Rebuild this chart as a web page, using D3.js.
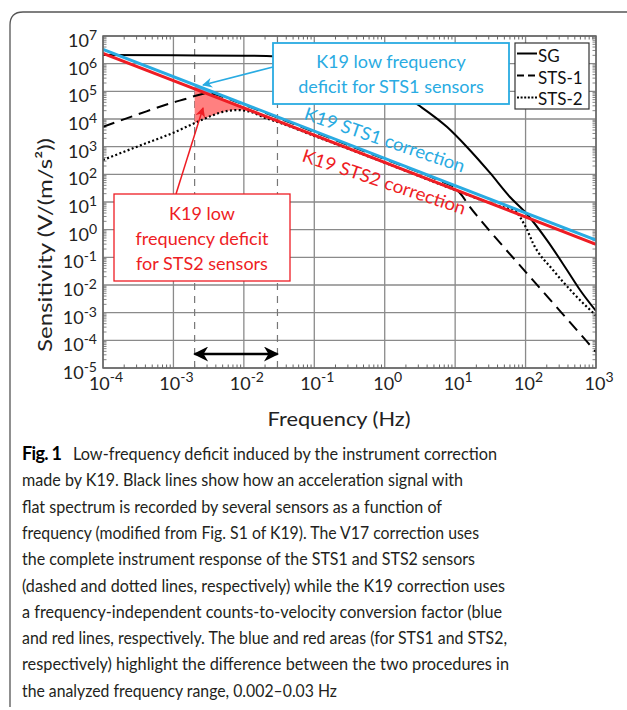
<!DOCTYPE html>
<html>
<head>
<meta charset="utf-8">
<script src="https://cdn.jsdelivr.net/npm/d3@7"></script>
<style>
  body { margin: 0; background: #fff; }
  svg { display: block; font-family: Lato, "Open Sans", sans-serif; }
</style>
</head>
<body>
<div id="chart"></div>
<script>
// Values (Hz, V/(m/s^2))
var sgFreq = [1e-4, 1e-3, 1e-2, 3e-2, 0.1, 0.32, 1, 3.0, 7.7, 14.7, 31.3, 60, 101, 201, 387, 593, 1000];
var sgSens = [2.06e6, 2.0e6, 1.95e6, 1.8e6, 1.32e6, 7.0e5, 1.95e5, 3.2e4, 5.1e3, 973, 112, 15.2, 4.0, 0.42, 0.035, 6.6e-3, 1.15e-3];

var sts1Freq = [1e-4, 3.2e-4, 1e-3, 1.6e-3, 2e-3, 2.5e-3, 3.2e-3, 4e-3, 6.3e-3, 1e-2, 0.1, 1, 3.2, 6.3, 10, 12.6, 15.8, 22.4, 31.6, 100, 316, 1000];
var sts1Sens = [5.2e3, 1.5e4, 4.0e4, 5.6e4, 6.8e4, 7.9e4, 8.5e4, 7.6e4, 5.1e4, 3.3e4, 3.4e3, 355, 115, 56, 32, 16.6, 7.2, 2.4, 0.85, 0.03, 1.07e-3, 3.8e-5];

var sts2Freq = [1e-4, 3.2e-4, 1e-3, 2e-3, 3.2e-3, 5e-3, 8e-3, 1.26e-2, 2e-2, 3.2e-2, 0.1, 1, 10, 31.6, 50, 70, 83, 105, 127, 245, 471, 1000];
var sts2Sens = [330, 1.05e3, 3.2e3, 7.1e3, 1.2e4, 1.8e4, 2.1e4, 1.8e4, 1.1e4, 7.4e3, 2.45e3, 263, 27, 9.1, 6.3, 5.2, 2.9, 1.0, 0.33, 0.035, 5.2e-3, 7.9e-4];

// K19 frequency-independent corrections (straight lines)
var k19Freq = [1e-4, 1e3];
var k19Sts1Sens = [3.3e6, 0.42];
var k19Sts2Sens = [2.37e6, 0.296];

// analyzed band
var bandFreq = [0.002, 0.03];
var bandArrowSens = 3.2e-5;

// annotation arrow tips
var sts1TipFreq = 2.63e-3, sts1TipSens = 1.7e5;
var sts2TipFreq = 2.63e-3, sts2TipSens = 2.5e4;

var xTickExp = [-4, -3, -2, -1, 0, 1, 2, 3];
var yTickExp = [-5, -4, -3, -2, -1, 0, 1, 2, 3, 4, 5, 6, 7];

var legendNames = ["SG", "STS-1", "STS-2"];

var captionLead = "Fig. 1";
var captionLines = [
  "Low-frequency deficit induced by the instrument correction",
  "made by K19. Black lines show how an acceleration signal with",
  "flat spectrum is recorded by several sensors as a function of",
  "frequency (modified from Fig. S1 of K19). The V17 correction uses",
  "the complete instrument response of the STS1 and STS2 sensors",
  "(dashed and dotted lines, respectively) while the K19 correction uses",
  "a frequency-independent counts-to-velocity conversion factor (blue",
  "and red lines, respectively. The blue and red areas (for STS1 and STS2,",
  "respectively) highlight the difference between the two procedures in",
  "the analyzed frequency range, 0.002\u20130.03 Hz"
];
// right ends of the caption lines (layout)
var captionEnds = [497, 463, 442, 479, 475, 505, 502, 507, 509, 337];

var W = 627, H = 710;
var pLeft = 103, pRight = 596, pTop = 36, pBottom = 368;
var blue = "#29abe2", red = "#ee1d24";

var svg = d3.select("#chart").append("svg")
    .attr("width", W)
    .attr("height", H);

var x = d3.scaleLog().domain([1e-4, 1e3]).range([pLeft, pRight]);
var y = d3.scaleLog().domain([1e-5, 1e7]).range([pBottom, pTop]);

var defs = svg.append("defs");
defs.append("clipPath").attr("id", "band")
  .append("rect")
    .attr("x", x(bandFreq[0]))
    .attr("y", pTop)
    .attr("width", x(bandFreq[1]) - x(bandFreq[0]))
    .attr("height", pBottom - pTop);
defs.append("clipPath").attr("id", "plot")
  .append("rect")
    .attr("x", pLeft).attr("y", pTop)
    .attr("width", pRight - pLeft).attr("height", pBottom - pTop);

function marker(id, color, len, wid, orient) {
    defs.append("marker")
        .attr("id", id)
        .attr("viewBox", "0 0 10 10")
        .attr("refX", 9).attr("refY", 5)
        .attr("markerWidth", len).attr("markerHeight", wid)
        .attr("markerUnits", "userSpaceOnUse")
        .attr("orient", orient)
      .append("path")
        .attr("d", "M0,0 L10,5 L0,10 L3,5 Z")
        .attr("fill", color);
}
marker("hBlue", blue, 13, 10, "auto");
marker("hRed", red, 13, 10, "auto");
marker("hBlack", "#000", 19, 15, "auto-start-reverse");

// outer figure frame (open, rounded top-left corner)
svg.append("path")
    .attr("d", "M10,707 L10,25 Q10,12 23,12 L627,12")
    .style("fill", "none")
    .style("stroke", "#555")
    .style("stroke-width", 1.3);

// ---- grid ----
var grid = svg.append("g");
xTickExp.forEach(function(e) {
    grid.append("line")
        .attr("x1", x(Math.pow(10, e))).attr("x2", x(Math.pow(10, e)))
        .attr("y1", pTop).attr("y2", pBottom)
        .style("stroke", "#8a8a8a").style("stroke-width", 1.3);
});
yTickExp.forEach(function(e) {
    grid.append("line")
        .attr("x1", pLeft).attr("x2", pRight)
        .attr("y1", y(Math.pow(10, e))).attr("y2", y(Math.pow(10, e)))
        .style("stroke", "#8a8a8a").style("stroke-width", 1.3);
});
// minor ticks, inward on all four sides
for (var e = -4; e < 3; e++) {
    for (var m = 2; m <= 9; m++) {
        var xv = x(m * Math.pow(10, e));
        grid.append("line").attr("x1", xv).attr("x2", xv).attr("y1", pBottom).attr("y2", pBottom - 3.5)
            .style("stroke", "#666").style("stroke-width", 1);
        grid.append("line").attr("x1", xv).attr("x2", xv).attr("y1", pTop).attr("y2", pTop + 3.5)
            .style("stroke", "#666").style("stroke-width", 1);
    }
}
for (var e = -5; e < 7; e++) {
    for (var m = 2; m <= 9; m++) {
        var yv = y(m * Math.pow(10, e));
        grid.append("line").attr("x1", pLeft).attr("x2", pLeft + 3.5).attr("y1", yv).attr("y2", yv)
            .style("stroke", "#666").style("stroke-width", 0.8);
        grid.append("line").attr("x1", pRight).attr("x2", pRight - 3.5).attr("y1", yv).attr("y2", yv)
            .style("stroke", "#666").style("stroke-width", 0.8);
    }
}

// band limits
bandFreq.forEach(function(f) {
    svg.append("line")
        .attr("x1", x(f)).attr("x2", x(f))
        .attr("y1", pTop).attr("y2", pBottom)
        .style("stroke", "#777")
        .style("stroke-width", 1.2)
        .style("stroke-dasharray", "7,6");
});

// ---- deficit areas ----
function lineAt(sens, f) {
    // y of a straight K19 line at frequency f (straight in log-log)
    var x0 = x(k19Freq[0]), x1 = x(k19Freq[1]);
    var y0 = y(sens[0]), y1 = y(sens[1]);
    return y0 + (x(f) - x0) / (x1 - x0) * (y1 - y0);
}
function deficit(freq, sens, k19, color) {
    var area = d3.area()
        .x(function(d) { return x(d[0]); })
        .y0(function(d) { return lineAt(k19, d[0]); })
        .y1(function(d) { return y(d[1]); })
        .curve(d3.curveMonotoneX);
    svg.append("path")
        .attr("d", area(d3.zip(freq, sens)))
        .attr("clip-path", "url(#band)")
        .style("fill", color)
        .style("stroke", "none");
}
deficit(sts1Freq, sts1Sens, k19Sts1Sens, "#7fa4d6");
deficit(sts2Freq, sts2Sens, k19Sts2Sens, "#ff8080");

// ---- curves ----
var lineGen = d3.line()
    .x(function(d) { return x(d[0]); })
    .y(function(d) { return y(d[1]); })
    .curve(d3.curveMonotoneX);

var curves = svg.append("g").attr("clip-path", "url(#plot)");
curves.append("path")
    .attr("d", lineGen(d3.zip(sgFreq, sgSens)))
    .style("fill", "none").style("stroke", "#000").style("stroke-width", 2);
curves.append("path")
    .attr("d", lineGen(d3.zip(sts1Freq, sts1Sens)))
    .style("fill", "none").style("stroke", "#000").style("stroke-width", 2)
    .style("stroke-dasharray", "12,7");
curves.append("path")
    .attr("d", lineGen(d3.zip(sts2Freq, sts2Sens)))
    .style("fill", "none").style("stroke", "#000").style("stroke-width", 2.2)
    .style("stroke-dasharray", "2,2.4");
curves.append("path")
    .attr("d", lineGen(d3.zip(k19Freq, k19Sts2Sens)))
    .style("fill", "none").style("stroke", red).style("stroke-width", 3);
curves.append("path")
    .attr("d", lineGen(d3.zip(k19Freq, k19Sts1Sens)))
    .style("fill", "none").style("stroke", blue).style("stroke-width", 3);

// plot frame
svg.append("rect")
    .attr("x", pLeft).attr("y", pTop)
    .attr("width", pRight - pLeft).attr("height", pBottom - pTop)
    .style("fill", "none").style("stroke", "#666").style("stroke-width", 1.5);

// ---- tick labels ----
xTickExp.forEach(function(e) {
    var t = svg.append("text")
        .attr("x", x(Math.pow(10, e)) + 3)
        .attr("y", 390)
        .attr("text-anchor", "middle")
        .style("font-size", "18px")
        .style("fill", "#222");
    t.append("tspan").text("10");
    t.append("tspan").attr("dy", -8).style("font-size", "14px").text(e);
});
yTickExp.forEach(function(e) {
    var t = svg.append("text")
        .attr("x", 97)
        .attr("y", y(Math.pow(10, e)) + 11)
        .attr("text-anchor", "end")
        .style("font-size", "18px")
        .style("fill", "#222");
    t.append("tspan").text("10");
    t.append("tspan").attr("dy", -7).style("font-size", "14px").text(e);
});

svg.append("text")
    .attr("x", 339).attr("y", 426)
    .attr("text-anchor", "middle")
    .attr("textLength", 143)
    .attr("lengthAdjust", "spacingAndGlyphs")
    .style("font-size", "19px").style("fill", "#222")
    .text("Frequency (Hz)");
svg.append("text")
    .attr("transform", "translate(52,245) rotate(-90)")
    .attr("text-anchor", "middle")
    .attr("textLength", 214)
    .attr("lengthAdjust", "spacingAndGlyphs")
    .style("font-size", "20px").style("fill", "#222")
    .text("Sensitivity (V/(m/s\u00b2))");

// ---- line labels ----
svg.append("text")
    .attr("transform", "translate(303,119) rotate(18.6)")
    .attr("textLength", 168)
    .attr("lengthAdjust", "spacingAndGlyphs")
    .style("font-size", "18px").style("fill", blue)
    .text("K19 STS1 correction");
svg.append("text")
    .attr("transform", "translate(301,161) rotate(18.3)")
    .attr("textLength", 171)
    .attr("lengthAdjust", "spacingAndGlyphs")
    .style("font-size", "18px").style("fill", red)
    .text("K19 STS2 correction");

// ---- double arrow: analyzed band ----
svg.append("line")
    .attr("x1", x(bandFreq[0])).attr("x2", x(bandFreq[1]))
    .attr("y1", y(bandArrowSens)).attr("y2", y(bandArrowSens))
    .attr("marker-start", "url(#hBlack)")
    .attr("marker-end", "url(#hBlack)")
    .style("stroke", "#000").style("stroke-width", 2.5);

// ---- annotation boxes ----
svg.append("line")
    .attr("x1", 273).attr("y1", 67)
    .attr("x2", x(sts1TipFreq)).attr("y2", y(sts1TipSens))
    .attr("marker-end", "url(#hBlue)")
    .style("stroke", blue).style("stroke-width", 1.5);
svg.append("rect")
    .attr("x", 273).attr("y", 43).attr("width", 236).attr("height", 61)
    .style("fill", "#fff").style("stroke", blue).style("stroke-width", 1.8);
["K19 low frequency", "deficit for STS1 sensors"].forEach(function(s, i) {
    svg.append("text")
        .attr("x", 391).attr("y", 68 + i * 25)
        .attr("text-anchor", "middle")
        .style("font-size", "18px").style("fill", blue)
        .text(s);
});

svg.append("line")
    .attr("x1", 176).attr("y1", 194)
    .attr("x2", x(sts2TipFreq)).attr("y2", y(sts2TipSens))
    .attr("marker-end", "url(#hRed)")
    .style("stroke", red).style("stroke-width", 1.5);
svg.append("rect")
    .attr("x", 114).attr("y", 194).attr("width", 176).attr("height", 87)
    .style("fill", "#fff").style("stroke", red).style("stroke-width", 1.3);
["K19 low", "frequency deficit", "for STS2 sensors"].forEach(function(s, i) {
    svg.append("text")
        .attr("x", 202).attr("y", 220 + i * 25)
        .attr("text-anchor", "middle")
        .style("font-size", "18px").style("fill", red)
        .text(s);
});

// ---- legend ----
var legend = svg.append("g");
legend.append("rect")
    .attr("x", 515).attr("y", 43).attr("width", 74).attr("height", 66)
    .style("fill", "#fff").style("stroke", "#333").style("stroke-width", 1.2);
var dashes = [null, "7,4", "2,1.6"];
legendNames.forEach(function(name, i) {
    var ly = 53.5 + i * 22;
    legend.append("line")
        .attr("x1", 517).attr("x2", 537).attr("y1", ly).attr("y2", ly)
        .style("stroke", "#000").style("stroke-width", 2)
        .style("stroke-dasharray", dashes[i]);
    legend.append("text")
        .attr("x", 538).attr("y", 62 + i * 21.5)
        .style("font-size", "17px").style("fill", "#111")
        .text(name);
});

// ---- caption ----
var cap = svg.append("g").style("fill", "#231f20");
cap.append("text")
    .attr("x", 22).attr("y", 460)
    .attr("textLength", 40)
    .style("font-size", "18px").style("font-weight", "bold").style("fill", "#000")
    .text(captionLead);
captionLines.forEach(function(s, i) {
    var x0 = i == 0 ? 73 : 22;
    cap.append("text")
        .attr("x", x0).attr("y", 460 + i * 26.3)
        .attr("textLength", captionEnds[i] - x0)
        .attr("lengthAdjust", "spacingAndGlyphs")
        .style("font-size", "18px")
        .text(s);
});
</script>
</body>
</html>
